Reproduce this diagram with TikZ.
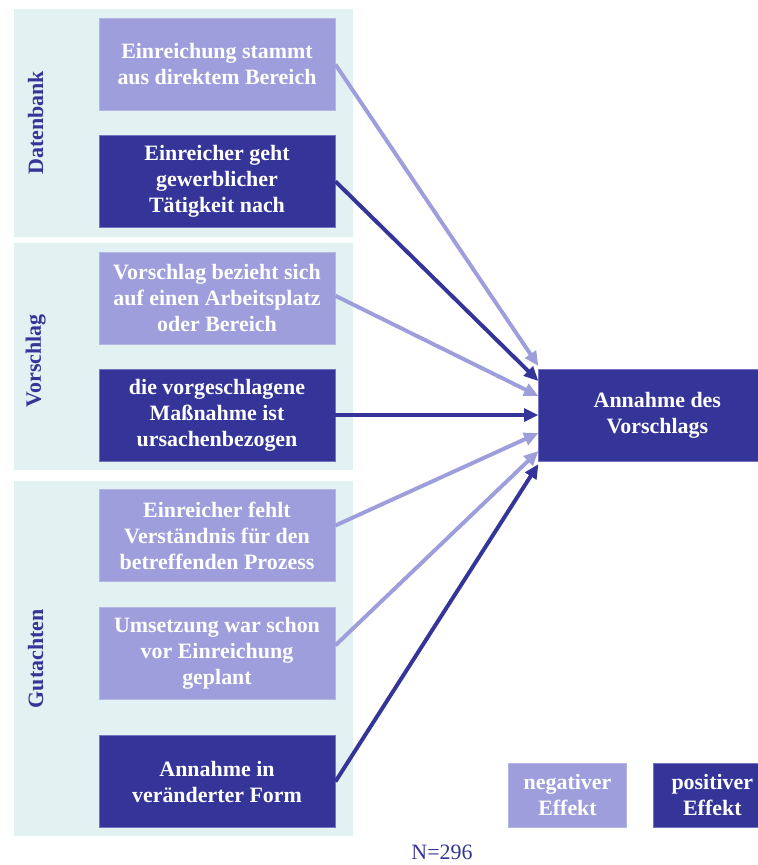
\documentclass[tikz,border=0pt]{standalone}
\usepackage{fontspec}
\setmainfont{Liberation Serif}
\usepackage{xcolor}
\usepackage{tikz}
\usetikzlibrary{arrows.meta, positioning, fit, backgrounds}

\definecolor{negfill}{HTML}{9E9EDC}
\definecolor{posfill}{HTML}{343499}
\definecolor{grpfill}{HTML}{E2F2F2}

\begin{document}
\begin{tikzpicture}[
    every node/.style={font=\fontsize{15.6}{18.5}\selectfont\bfseries},
    negbox/.style={rectangle, draw=negfill!75!white, line width=0.6pt, fill=negfill, text=white, minimum height=2.3cm, minimum width=5.9cm, align=center},
    posbox/.style={rectangle, draw=negfill!60!posfill, line width=0.6pt, fill=posfill, text=white, minimum height=2.3cm, minimum width=5.9cm, align=center},
    keybox/.style={minimum height=1.6cm, minimum width=2.95cm},
    grp/.style={rectangle, fill=grpfill, inner xsep=0.45cm, inner ysep=0.225cm},
    grplabel/.style={rotate=90, text=posfill},
    negarr/.style={-{Triangle[length=3.6mm, width=3.2mm]}, line width=2.8pt, draw=negfill},
    posarr/.style={-{Triangle[length=3.6mm, width=3.2mm]}, line width=2.8pt, draw=posfill}
]
    \useasboundingbox (0,0) rectangle (18.925,-21.625);

    \node (b1) [negbox] at (5.425,-1.6125) {Einreichung stammt\\aus direktem Bereich};
    \node (b2) [posbox, below=0.6cm of b1] {Einreicher geht\\gewerblicher\\Tätigkeit nach};
    \node (b3) [negbox, below=0.6cm of b2] {Vorschlag bezieht sich\\auf einen Arbeitsplatz\\oder Bereich};
    \node (b4) [posbox, below=0.6cm of b3] {die vorgeschlagene\\Maßnahme ist\\ursachenbezogen};
    \node (b5) [negbox, below=0.7cm of b4] {Einreicher fehlt\\Verständnis für den\\betreffenden Prozess};
    \node (b6) [negbox, below=0.625cm of b5] {Umsetzung war schon\\vor Einreichung\\geplant};
    \node (b7) [posbox, below=0.875cm of b6] {Annahme in\\veränderter Form};

    \node (target) [posbox, minimum width=5.925cm, right=5.075cm of b4] {Annahme des\\Vorschlags};

    \coordinate (gleft) at (0.8,-10);
    \begin{scope}[on background layer]
        \node (gdb) [grp, fit=(b1)(b2)(gleft|-b1)] {};
        \node (gvs) [grp, fit=(b3)(b4)(gleft|-b3)] {};
        \node (ggu) [grp, fit=(b5)(b7)(gleft|-b5), inner ysep=0.2cm] {};
    \end{scope}
    \node (ldb) [grplabel] at ([xshift=0.55cm]gdb.west) {Datenbank};
    \node (lvs) [grplabel] at ([xshift=0.55cm, yshift=-0.1cm]gvs.west) {Vorschlag};
    \node (lgu) [grplabel] at ([xshift=0.55cm]ggu.west) {Gutachten};

    \draw[negarr] (b1.east) -- ([yshift=1.225cm]target.west);
    \draw[posarr] (b2.east) -- ([yshift=0.85cm]target.west);
    \draw[negarr] ([yshift=0.06cm]b3.east) -- ([yshift=0.475cm]target.west);
    \draw[posarr] (b4.east) -- (target.west);
    \draw[negarr] ([yshift=0.26cm]b5.east) -- ([yshift=-0.45cm]target.west);
    \draw[negarr] ([yshift=0.21cm]b6.east) -- ([yshift=-0.9cm]target.west);
    \draw[posarr] (b7.east) -- ([yshift=-1.225cm]target.west);

    \node (kneg) [negbox, keybox] at (14.1875,-19.875) {negativer\\Effekt};
    \node (kpos) [posbox, keybox, right=0.65cm of kneg] {positiver\\Effekt};

    \node (n) [font=\fontsize{15.6}{18.5}\selectfont, text=posfill] at (11.05,-21.3) {N=296};
\end{tikzpicture}
\end{document}
